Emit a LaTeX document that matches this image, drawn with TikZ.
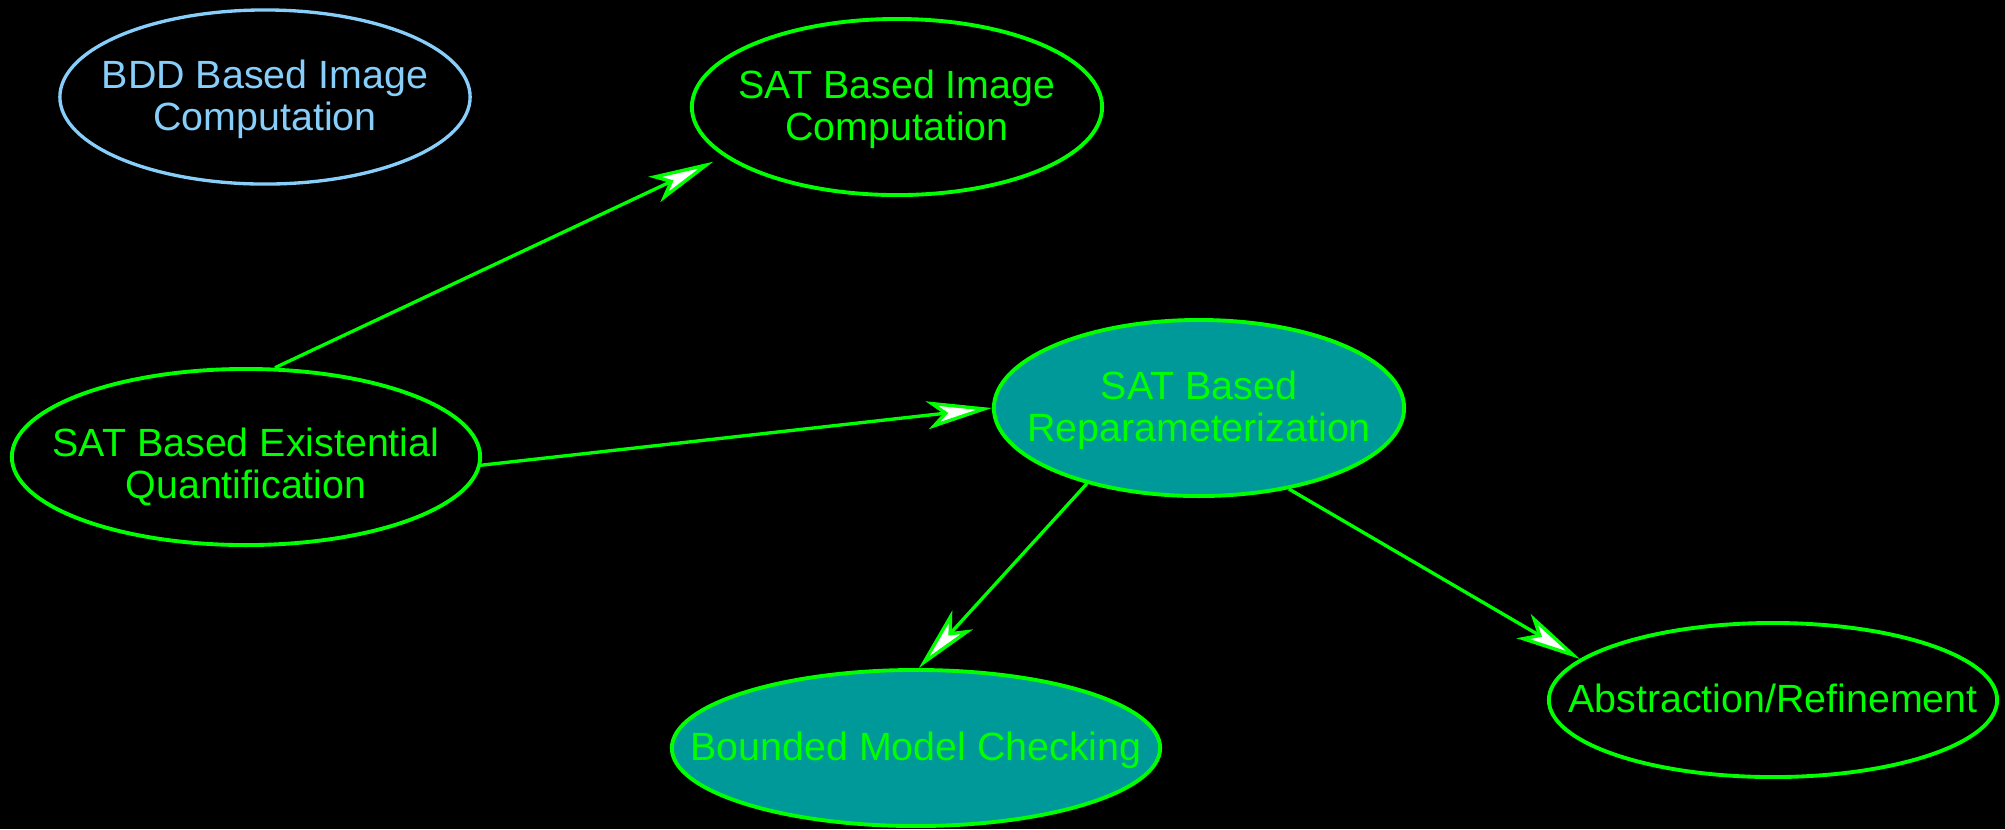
\documentclass[tikz,border=0pt]{standalone}
\usepackage{fontspec}
\setmainfont{Liberation Sans}
\usetikzlibrary{shapes.geometric,arrows.meta}
\definecolor{lime}{RGB}{0,255,0}
\definecolor{skyline}{RGB}{135,206,250}
\definecolor{tealfill}{RGB}{0,153,153}
\newcommand{\etichetta}[2][-1.1pt]{\raisebox{#1}[\height][\depth]{\makebox[0pt]{\begin{tabular}{@{}c@{}}#2\end{tabular}}}}

\begin{document}
\begin{tikzpicture}[x=0.01cm, y=-0.01cm,
		bolla/.style={draw=lime, text=lime, line width=1.1pt, ellipse, inner sep=0pt,
			font=\fontsize{11.2}{12}\selectfont},
		piena/.style={bolla, fill=tealfill},
		freccia/.style={draw=lime, line width=0.95pt,
			-{Stealth[length=6.5mm, width=2.8mm, inset=1.6mm, fill=white]}}]
		\fill[black] (0,0) rectangle (2005,829);

		\node[bolla, draw=skyline, text=skyline, line width=0.95pt, minimum width=4.1cm, minimum height=1.74cm] (bdd) at (265,97) {\etichetta{BDD Based Image\\Computation}};
		\node[bolla, minimum width=4.1cm, minimum height=1.76cm] (img) at (897,107) {\etichetta{SAT Based Image\\Computation}};
		\node[bolla, minimum width=4.68cm, minimum height=1.76cm] (ex) at (246,457) {\etichetta[-3.4pt]{SAT Based Existential\\Quantification}};
		\node[piena, minimum width=4.1cm, minimum height=1.76cm] (rep) at (1199,408) {\etichetta{SAT Based\\Reparameterization}};
		\node[piena, minimum width=4.88cm, minimum height=1.56cm] (bmc) at (916,748) {\etichetta{Bounded Model Checking}};
		\node[bolla, minimum width=4.48cm, minimum height=1.54cm] (abs) at (1773,700) {\etichetta{Abstraction/Refinement}};

		\draw[freccia, shorten >=1.2mm] (ex.72) -- (img.196);
		\draw[freccia] (ex.-2) -- (rep.180);
		\draw[freccia] (rep.214) -- (bmc.88);
		\draw[freccia] (rep.-42) -- (abs.168);
	\end{tikzpicture}
\end{document}
